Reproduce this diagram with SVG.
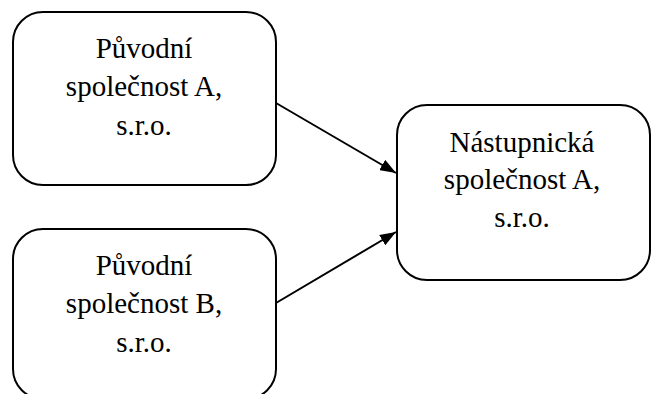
<svg xmlns="http://www.w3.org/2000/svg" width="651" height="394" viewBox="0 0 651 394">
<style>
.box{fill:#fff;stroke:#000;stroke-width:2}
.t{font-family:"Liberation Serif","Times New Roman",serif;font-size:29px;fill:#000;text-anchor:middle}
.c{stroke:#000;stroke-width:2;fill:none;marker-end:url(#ah)}
</style>
<defs>
<marker id="ah" markerWidth="16" markerHeight="12" refX="16" refY="6" orient="auto" markerUnits="userSpaceOnUse" viewBox="0 0 16 12">
<path d="M0,0 L16,6 L0,12 Z" fill="#000"/>
</marker>
</defs>
<rect width="651" height="394" fill="#fff"/>
<g id="connectors">
<line class="c" x1="276" y1="103" x2="396" y2="173"/>
<line class="c" x1="276" y1="303" x2="396" y2="232"/>
</g>
<g id="nodeA">
<rect class="box" x="13" y="12" width="263" height="173" rx="30" ry="30"/>
<text class="t" x="144" y="58">Původní</text>
<text class="t" x="144" y="96">společnost A,</text>
<text class="t" x="144" y="135">s.r.o.</text>
</g>
<g id="nodeB">
<rect class="box" x="13" y="229" width="263" height="170" rx="30" ry="30"/>
<text class="t" x="144" y="275">Původní</text>
<text class="t" x="144" y="313">společnost B,</text>
<text class="t" x="144" y="352">s.r.o.</text>
</g>
<g id="nodeC">
<rect class="box" x="397" y="105" width="253" height="175" rx="30" ry="30"/>
<text class="t" x="522" y="152">Nástupnická</text>
<text class="t" x="522" y="189">společnost A,</text>
<text class="t" x="522" y="227">s.r.o.</text>
</g>
</svg>
